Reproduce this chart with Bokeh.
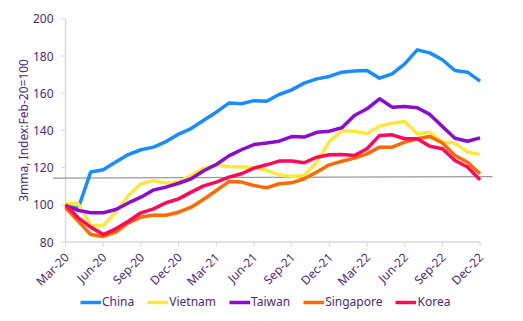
from math import pi
from bokeh.plotting import figure
from bokeh.models import Range1d, Legend, LegendItem
from bokeh.core.properties import value
from bokeh.embed import file_html
from bokeh.resources import INLINE

months = ["Mar-20", "Apr-20", "May-20", "Jun-20", "Jul-20", "Aug-20", "Sep-20", "Oct-20",
          "Nov-20", "Dec-20", "Jan-21", "Feb-21", "Mar-21", "Apr-21", "May-21", "Jun-21",
          "Jul-21", "Aug-21", "Sep-21", "Oct-21", "Nov-21", "Dec-21", "Jan-22", "Feb-22",
          "Mar-22", "Apr-22", "May-22", "Jun-22", "Jul-22", "Aug-22", "Sep-22", "Oct-22",
          "Nov-22", "Dec-22"]

china = [100, 98, 117.6, 118.8, 123, 127, 129.6, 131, 134, 138, 141, 145.5, 149.8, 154.7,
         154.3, 156, 155.7, 159.3, 161.8, 165.4, 167.7, 169, 171.3, 171.9, 172.2, 168.1,
         170.4, 175.8, 183.3, 181.7, 178, 172.2, 171.3, 166.5]
vietnam = [100.5, 100.5, 88.9, 88.9, 96, 105, 111.3, 113, 111.6, 112.2, 115.8, 119.8, 121.1,
           120.6, 120.3, 119.9, 118.5, 116.1, 115.2, 115.8, 122.9, 134, 139.8, 139.6, 138.2,
           142.3, 143.9, 144.8, 138.2, 139, 133.7, 133.2, 128.3, 127.1]
taiwan = [99.6, 97, 95.7, 95.7, 97.5, 101, 104.1, 108, 109.5, 111.6, 114, 118.3, 121.7, 126.3,
          129.6, 132.4, 133.2, 134.2, 136.7, 136.4, 139, 139.6, 141.4, 148, 151.6, 157, 152.5,
          152.9, 152.2, 148.6, 142.1, 135.8, 134.2, 136]
singapore = [98.4, 91.2, 84, 83, 85.3, 90.3, 93.4, 94.4, 94.4, 96, 98.7, 103, 107.7, 112.5,
             112.2, 110.4, 109.1, 111.3, 111.8, 114, 117.6, 121.5, 123.4, 125.1, 127.4, 131,
             131, 133.7, 135.5, 136.7, 133.2, 126.5, 122.9, 116.7]
korea = [100, 93, 88, 84, 87.1, 91.2, 95.7, 97.8, 101.1, 103.2, 106.8, 110.2, 112.2, 114.9,
         116.7, 119.7, 121.5, 123.5, 123.5, 122.6, 125.6, 126.9, 127, 126.5, 130.1, 137.3,
         137.6, 135.5, 135.5, 131.5, 130.1, 123.8, 120.3, 113.4]

series_names = ["China", "Vietnam", "Taiwan", "Singapore", "Korea"]
series_colors = ["#1A8CFF", "#FFE83D", "#8A0CCF", "#FF6A00", "#FF0A5A"]

# grey reference line, Feb-20 to Jan-23 (month index -1 .. 34)
ref_x = [-1, 34]
ref_y = [114.3, 115.2]

y_ticks = [80, 100, 120, 140, 160, 180, 200]
y_tick_labels = [str(v) for v in y_ticks]
y_title = "3mma, Index:Feb-20=100"
x_tick_step = 3

TEXT = "#4B2A7A"
FONT = "Noto Sans"
AXIS_GREY = "#D9D9D9"
TICK_X = 0.36   # y-tick length in month units (~4.5 px)
TICK_Y = 2.7    # x-tick length in index units (~5 px)

x = list(range(len(months)))
xt = list(range(0, len(months), x_tick_step))
xt_labels = [months[i] for i in xt]

# the frame fills the whole 523x321 canvas; axes are drawn as marks and texts
p = figure(width=523, height=321, output_backend="svg", toolbar_location=None,
           x_range=Range1d(-5.18, 36.46), y_range=Range1d(37.26, 209.84),
           x_axis_location=None, y_axis_location=None,
           min_border_left=0, min_border_right=0, min_border_top=0, min_border_bottom=0)
p.grid.visible = False
p.outline_line_color = None
p.background_fill_color = "white"
p.border_fill_color = "white"

y0 = y_ticks[0]
# axis lines
p.segment(x0=[x[0]], y0=[y0], x1=[x[-1]], y1=[y0], line_color=AXIS_GREY, line_width=1.5)
p.segment(x0=[x[0]], y0=[y0], x1=[x[0]], y1=[y_ticks[-1]], line_color=AXIS_GREY, line_width=1.5)
# ticks
p.segment(x0=[x[0] - TICK_X] * len(y_ticks), y0=y_ticks, x1=[x[0]] * len(y_ticks), y1=y_ticks,
          line_color=AXIS_GREY, line_width=1)
p.segment(x0=xt, y0=[y0] * len(xt), x1=xt, y1=[y0 - TICK_Y] * len(xt),
          line_color=AXIS_GREY, line_width=1)
# tick labels
p.text(x=[x[0]] * len(y_ticks), y=y_ticks, text=y_tick_labels, x_offset=-12,
       text_align="right", text_baseline="middle", text_color=TEXT,
       text_font=value(FONT), text_font_size="12px")
p.text(x=xt, y=[y0] * len(xt), text=xt_labels, x_offset=1, y_offset=13, angle=pi / 4,
       text_align="right", text_baseline="middle", text_color=TEXT,
       text_font=value(FONT), text_font_size="12px")
# axis title
p.text(x=[x[0]], y=[(y_ticks[0] + y_ticks[-1]) / 2], text=[y_title], x_offset=-42, angle=pi / 2,
       text_align="center", text_baseline="middle", text_color=TEXT,
       text_font=value(FONT), text_font_size="12px")

p.line(ref_x, ref_y, line_color="#999999", line_width=1.2)

items = []
for name, vals, col in zip(series_names, [china, vietnam, taiwan, singapore, korea], series_colors):
    r = p.line(x, vals, line_color=col, line_width=3.5, line_join="round")
    items.append(LegendItem(label=name, renderers=[r]))

legend = Legend(items=items, orientation="horizontal", location=(80, 11),
                glyph_width=21, glyph_height=14, label_height=14, label_standoff=1,
                spacing=13, padding=0, margin=0, border_line_color=None,
                background_fill_alpha=0, label_text_font=FONT, label_text_font_size="12px",
                label_text_color=TEXT)
p.add_layout(legend, "center")

open("out.html", "w").write(file_html(p, INLINE))
